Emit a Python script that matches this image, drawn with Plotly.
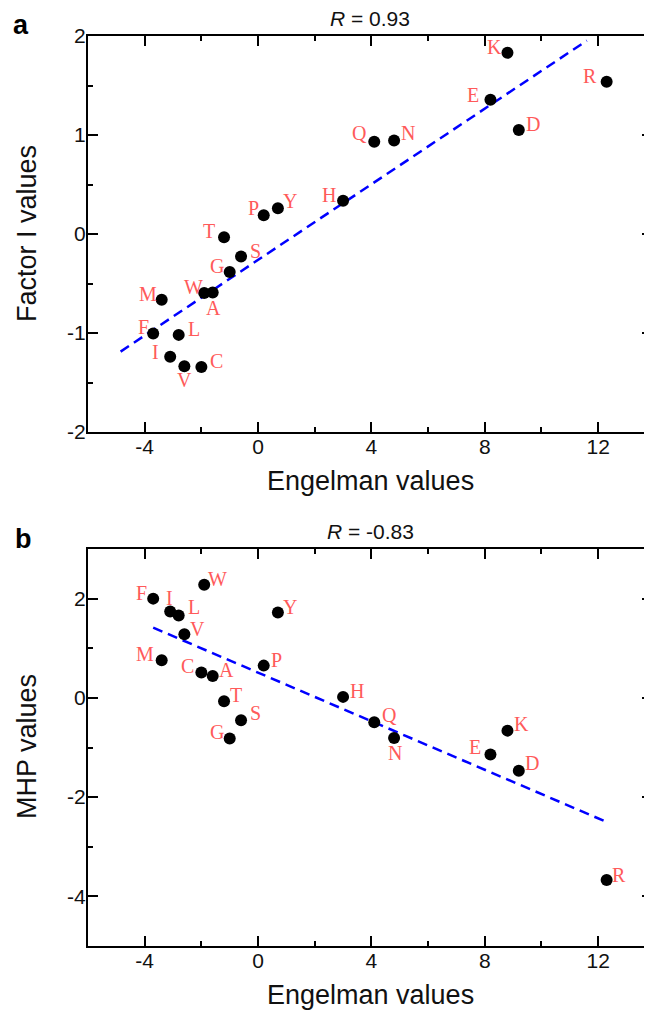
import numpy as np
import plotly.graph_objects as go

# ---------------- data ----------------
residues = ["F", "M", "I", "L", "V", "C", "W", "A", "T", "G",
            "S", "P", "Y", "H", "Q", "N", "E", "K", "D", "R"]
engelman = [-3.7, -3.4, -3.1, -2.8, -2.6, -2.0, -1.9, -1.6, -1.2, -1.0,
            -0.6, 0.2, 0.7, 3.0, 4.1, 4.8, 8.2, 8.8, 9.2, 12.3]
factor_i = [-1.006, -0.663, -1.239, -1.019, -1.337, -1.343, -0.595, -0.591, -0.032, -0.384,
            -0.228, 0.189, 0.260, 0.336, 0.931, 0.945, 1.357, 1.831, 1.050, 1.538]
mhp = [2.00, 0.76, 1.74, 1.66, 1.28, 0.51, 2.28, 0.44, -0.07, -0.82,
       -0.45, 0.65, 1.72, 0.02, -0.49, -0.81, -1.14, -0.66, -1.47, -3.67]

r_text_a = "<i>R</i> = 0.93"
r_text_b = "<i>R</i> = -0.83"
x_title = "Engelman values"
ya_title = "Factor I values"
yb_title = "MHP values"

x_ticks = [-4, 0, 4, 8, 12]
x_ticktext = ["-4", "0", "4", "8", "12"]
ya_ticks = [-2, -1, 0, 1, 2]
ya_ticktext = ["-2", "-1", "0", "1", "2"]
yb_ticks = [-4, -2, 0, 2]
yb_ticktext = ["-4", "-2", "0", "2"]

# fit-line x extents (style)
fit_range_a = [-4.85, 11.6]
fit_range_b = [min(engelman), max(engelman)]

# label offsets in pixels (dx right, dy down) — style
offs_a = [(-10, -6), (-14, -5), (-15, -4), (15, -5), (0, 15), (15, -5), (-11, -5), (1, 16),
          (-15, -5), (-13, -5), (14, -5), (-10, -6), (12, -6), (-14, -5), (-15, -8), (14, -6),
          (-17, -4), (-13, -5), (14, -5), (-17, -5)]
offs_b = [(-12, -5), (-17, -5), (-1, -13), (15, -8), (13, -4), (-14, -6), (13, -5), (14, -5),
          (12, -5), (-13, -6), (14, -6), (13, -5), (12, -5), (14, -5), (15, -6), (1, 16),
          (-15, -6), (14, -6), (13, -7), (12, -4)]

LABEL_FONT = dict(family="Liberation Serif, serif", size=20, color="#ff5a5a")
SANS = "Arial, Liberation Sans, sans-serif"

# pixel geometry (style); the page body has an 8px default margin
OFF = 8
W, H = 652 - OFF, 1015 - OFF
ML, MR, MT, MB = 88 - OFF, 0, 36 - OFF, 69
PH = H - MT - MB
PW = W - ML - MR

def py(pix):
    return (H - MB - (pix - OFF)) / PH

def px(pix):
    return (pix - OFF - ML) / PW

fig = go.Figure()

def add_panel(xs, ys, fit_range, xref, yref, offs):
    slope, icpt = np.polyfit(xs, ys, 1)
    fx = np.array(fit_range)
    fig.add_trace(go.Scatter(x=fx, y=slope * fx + icpt, mode="lines",
                             line=dict(color="#0000ff", width=2.5, dash="10px,6px"),
                             xaxis=xref, yaxis=yref, showlegend=False, hoverinfo="skip"))
    fig.add_trace(go.Scatter(x=xs, y=ys, mode="markers",
                             marker=dict(color="black", size=12),
                             xaxis=xref, yaxis=yref, showlegend=False))
    for name, x, y, (dx, dy) in zip(residues, xs, ys, offs):
        fig.add_annotation(x=x, y=y, xref=xref, yref=yref, text=name, showarrow=False,
                           xanchor="center", yanchor="middle", borderpad=0,
                           xshift=dx, yshift=-dy + 1, font=LABEL_FONT)

add_panel(engelman, factor_i, fit_range_a, "x", "y", offs_a)
add_panel(engelman, mhp, fit_range_b, "x2", "y2", offs_b)

axis_common = dict(showline=True, linecolor="black", linewidth=2, mirror="ticks",
                   ticks="inside", ticklen=10, tickwidth=2, tickcolor="black",
                   showgrid=False, zeroline=False, automargin=False,
                   tickfont=dict(family=SANS, size=21, color="#111"))

minor_common = dict(ticks="inside", ticklen=5, tickwidth=2, tickcolor="black", showgrid=False)

top_dom = [py(432), 1.0]
bot_dom = [0.0, py(549)]

fig.update_layout(
    width=W, height=H,
    margin=dict(l=ML, r=MR, t=MT, b=MB),
    paper_bgcolor="white", plot_bgcolor="white",
    xaxis=dict(axis_common, range=[-6, 13.9], anchor="y", tickmode="array",
               tickvals=x_ticks, ticktext=x_ticktext, ticklabelstandoff=-5,
               minor=dict(minor_common, tickmode="linear", tick0=0, dtick=2)),
    yaxis=dict(axis_common, range=[-2, 2], domain=top_dom, anchor="x", tickmode="array",
               tickvals=ya_ticks, ticktext=ya_ticktext, ticklabelstandoff=-4,
               minor=dict(minor_common, tickmode="linear", tick0=0, dtick=0.5)),
    xaxis2=dict(axis_common, range=[-6, 13.9], anchor="y2", tickmode="array",
                tickvals=x_ticks, ticktext=x_ticktext, ticklabelstandoff=-5,
                minor=dict(minor_common, tickmode="linear", tick0=0, dtick=2)),
    yaxis2=dict(axis_common, range=[-5, 3], domain=bot_dom, anchor="x2", tickmode="array",
                tickvals=yb_ticks, ticktext=yb_ticktext, ticklabelstandoff=-4,
                minor=dict(minor_common, tickmode="linear", tick0=0, dtick=1)),
)

TITLE_FONT = dict(family=SANS, size=27, color="#111")
# axis titles
fig.add_annotation(xref="paper", yref="paper", x=0.5, y=py(481), text=x_title, showarrow=False,
                   xanchor="center", yanchor="middle", font=TITLE_FONT)
fig.add_annotation(xref="paper", yref="paper", x=0.5, y=py(995), text=x_title, showarrow=False,
                   xanchor="center", yanchor="middle", font=TITLE_FONT)
fig.add_annotation(xref="paper", yref="paper", x=px(27), y=py(234), text=ya_title, showarrow=False,
                   textangle=-90, xanchor="center", yanchor="middle", font=TITLE_FONT)
fig.add_annotation(xref="paper", yref="paper", x=px(27), y=py(747), text=yb_title, showarrow=False,
                   textangle=-90, xanchor="center", yanchor="middle", font=TITLE_FONT)

# R titles
fig.add_annotation(xref="paper", yref="paper", x=0.5, y=py(18), text=r_text_a,
                   showarrow=False, xanchor="center", yanchor="middle",
                   font=dict(family=SANS, size=21, color="#111"))
fig.add_annotation(xref="paper", yref="paper", x=0.5, y=py(531), text=r_text_b,
                   showarrow=False, xanchor="center", yanchor="middle",
                   font=dict(family=SANS, size=21, color="#111"))
# panel letters
fig.add_annotation(xref="paper", yref="paper", x=px(21), y=py(25), text="<b>a</b>",
                   showarrow=False, xanchor="center", yanchor="middle",
                   font=dict(family=SANS, size=27, color="black"))
fig.add_annotation(xref="paper", yref="paper", x=px(23), y=py(539), text="<b>b</b>",
                   showarrow=False, xanchor="center", yanchor="middle",
                   font=dict(family=SANS, size=27, color="black"))

fig.write_html("out.html")
